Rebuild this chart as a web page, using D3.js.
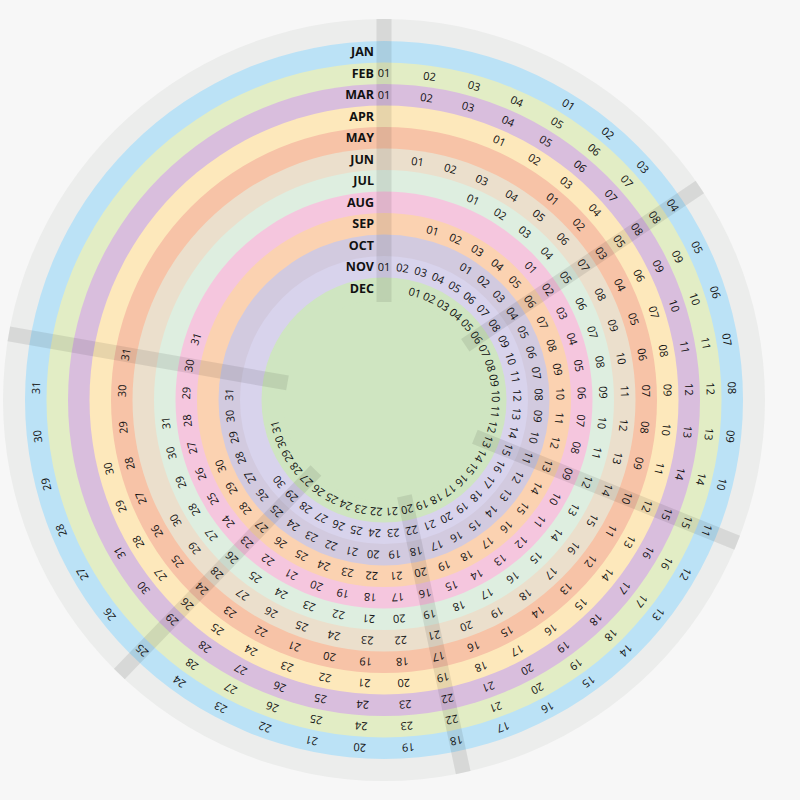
<!DOCTYPE html>
<html>
<head>
<meta charset="utf-8">
<script src="https://cdn.jsdelivr.net/npm/d3@7"></script>
<style>
  body { margin: 0; background: #f7f7f7; }
  svg { display: block; }
</style>
</head>
<body>
<svg id="chart"></svg>
<script>
// months, outer ring first
var months = ["JAN", "FEB", "MAR", "APR", "MAY", "JUN", "JUL", "AUG", "SEP", "OCT", "NOV", "DEC"];
var daysInMonth = [31, 28, 31, 30, 31, 30, 31, 31, 30, 31, 30, 31];
// weekday slot of the 1st of each month (0 = the top spoke)
var firstSlot = [4, 0, 0, 3, 5, 1, 3, 6, 2, 4, 0, 2];
var ringColors = ["#bbe2f6", "#e2edc5", "#d9bedd", "#fde8bb", "#f7c3a7", "#ebdfcc",
                  "#deeee0", "#f5c6de", "#fbd2b1", "#d2cadf", "#d8d3ec", "#cfe5c1"];
// week spokes, in day slots
var weekSpokes = [0, 7, 14, 21, 28, 35];

var svgWidth = 800, svgHeight = 800;
var cx = 384, cy = 400;
var outerGray = 381, ringOuter = 359, ringInner = 101, spokeInner = 98;

var svg = d3.select("#chart")
    .attr("width", svgWidth)
    .attr("height", svgHeight);

var angle = d3.scaleLinear().domain([0, 45]).range([0, 360]);
var radius = d3.scaleBand().domain(months).range([ringOuter, ringInner]);
var pad = d3.format("02d");

var g = svg.append("g").attr("transform", "translate(" + cx + "," + cy + ")");

// outer gray ring
g.append("circle")
    .attr("r", outerGray)
    .attr("fill", "#ecedec");

// month rings, DEC fills the middle
g.selectAll("circle.ring")
    .data(months)
    .enter()
    .append("circle")
    .attr("class", "ring")
    .attr("r", function(d) { return radius(d) + radius.bandwidth(); })
    .attr("fill", function(d, i) { return ringColors[i]; });

g.append("circle")
    .attr("r", ringInner)
    .attr("fill", ringColors[11]);

// week spokes
g.selectAll("rect.spoke")
    .data(weekSpokes)
    .enter()
    .append("rect")
    .attr("class", "spoke")
    .attr("x", -7.5)
    .attr("y", -outerGray)
    .attr("width", 15)
    .attr("height", outerGray - spokeInner)
    .attr("fill", "rgba(0,0,0,0.085)")
    .attr("transform", function(d) { return "rotate(" + angle(d) + ")"; });

// month labels
g.selectAll("text.month")
    .data(months)
    .enter()
    .append("text")
    .attr("class", "month")
    .attr("x", -10)
    .attr("y", function(d) { return -(radius(d) + radius.bandwidth() / 2); })
    .attr("dy", "0.36em")
    .attr("text-anchor", "end")
    .style("font-family", "'Open Sans', sans-serif")
    .style("font-weight", "bold")
    .style("font-size", "12.5px")
    .style("fill", "#111")
    .text(function(d) { return d; });

// day numbers
var days = [];
months.forEach(function(m, i) {
    for (var d = 1; d <= daysInMonth[i]; d++) {
        days.push({ month: m, day: d, slot: firstSlot[i] + d - 1 });
    }
});

g.selectAll("text.day")
    .data(days)
    .enter()
    .append("text")
    .attr("class", "day")
    .attr("transform", function(d) {
        var a = angle(d.slot);
        var r = radius(d.month) + radius.bandwidth() / 2;
        var rad = a * Math.PI / 180;
        return "translate(" + (r * Math.sin(rad)) + "," + (-r * Math.cos(rad)) + ") rotate(" + a + ")";
    })
    .attr("dy", "0.36em")
    .attr("text-anchor", "middle")
    .style("font-family", "'Open Sans', sans-serif")
    .style("font-size", "11px")
    .style("fill", "#111")
    .text(function(d) { return pad(d.day); });
</script>
</body>
</html>
